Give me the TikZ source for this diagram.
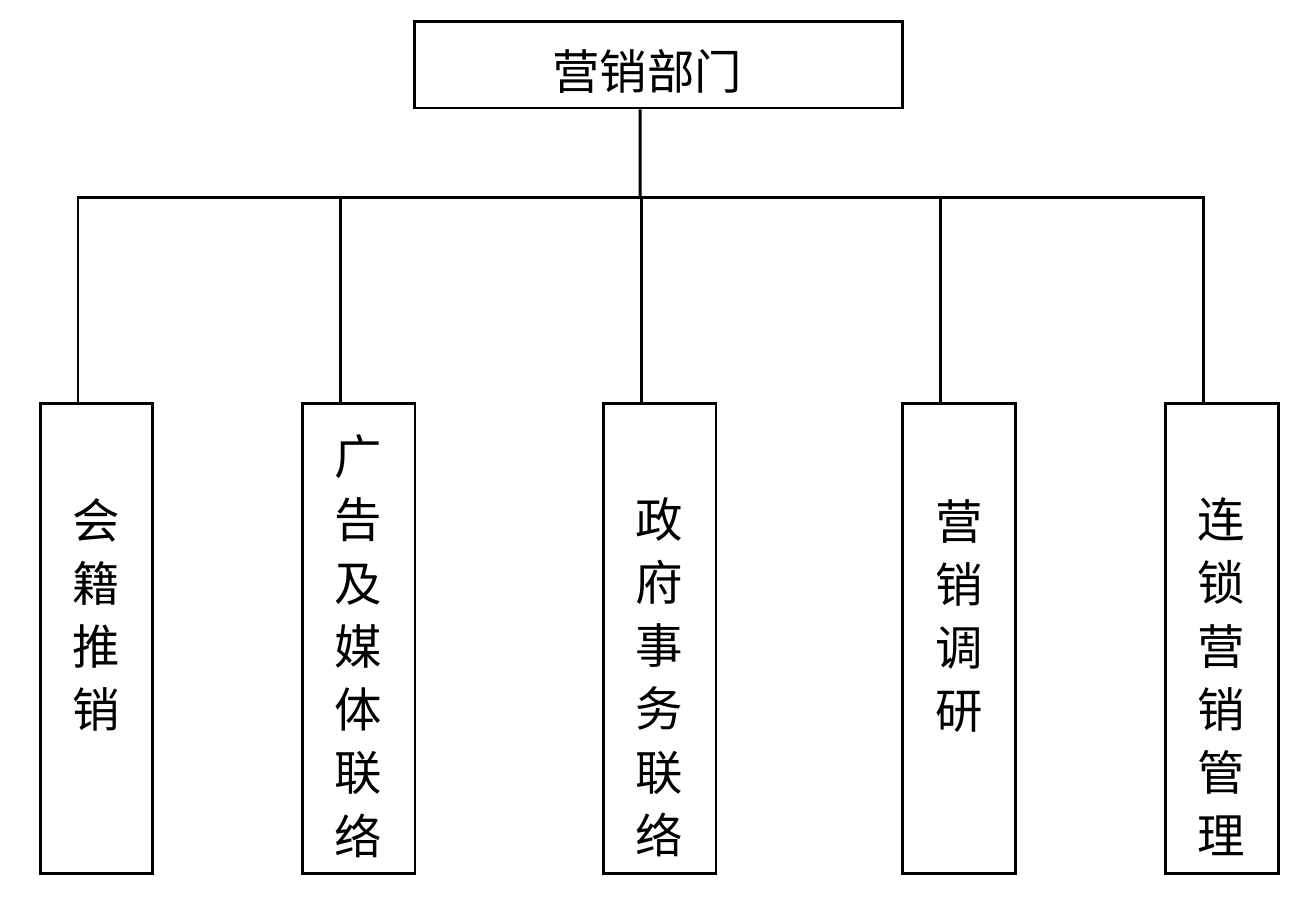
\documentclass[tikz,border=0pt]{standalone}
\usepackage{fontspec}
\newfontfamily\cjk{Noto Sans CJK SC}
\usetikzlibrary{positioning, calc}

\begin{document}
\begin{tikzpicture}[x=0.02cm, y=-0.02cm,
    unit/.style={draw, line width=1.7pt, minimum width=2.26cm, minimum height=9.42cm,
                 inner sep=0pt},
    head/.style={draw, line width=1.7pt, minimum width=9.78cm, minimum height=1.74cm,
                 inner sep=0pt},
    lbl/.style={align=center, inner sep=0pt,
                font=\cjk\fontsize{27pt}{36pt}\selectfont},
    link/.style={line width=1.7pt}
  ]
    \useasboundingbox (0,0) rectangle (1304,897);

    % top box
    \node[head] (top) at (658.5,64.5) {};
    \node[lbl] (toplbl) at (647,71) {营销部门};

    % department boxes
    \node[unit] (b1) at (96.5,638.5) {};
    \node[unit] (b2) at (358.5,638.5) {};
    \node[unit] (b3) at (659.5,638.5) {};
    \node[unit] (b4) at (959,638.5) {};
    \node[unit] (b5) at (1221.5,638.5) {};

    \node[lbl] (t1) at (96.5,615) {会\\籍\\推\\销};
    \node[lbl] (t2) at (358.5,646) {广\\告\\及\\媒\\体\\联\\络};
    \node[lbl] (t3) at (659.5,677) {政\\府\\事\\务\\联\\络};
    \node[lbl] (t4) at (959,616) {营\\销\\调\\研};
    \node[lbl] (t5) at (1221.5,677) {连\\锁\\营\\销\\管\\理};

    % connectors
    \coordinate (hub) at (640,197);
    \draw[link] ([xshift=-0.37cm]top.south) -- (hub);
    \foreach \i in {1,...,5}
      \draw[link] ([xshift=-0.37cm]b\i.north) |- (hub);
  \end{tikzpicture}
\end{document}
